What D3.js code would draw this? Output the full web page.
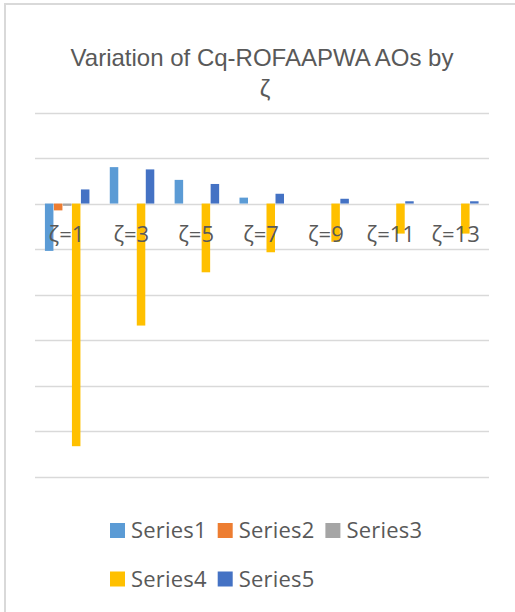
<!DOCTYPE html>
<html>
<head>
<meta charset="utf-8">
<script src="https://cdn.jsdelivr.net/npm/d3@7"></script>
<style>
  body { margin: 0; background: #fff; }
  svg { display: block; }
</style>
</head>
<body>
<div id="chart"></div>
<script>
// chart values (one gridline = 1 unit)
const categories = ["ζ=1", "ζ=3", "ζ=5", "ζ=7", "ζ=9", "ζ=11", "ζ=13"];
const seriesNames = ["Series1", "Series2", "Series3", "Series4", "Series5"];
const series1 = [-1.04, 0.80, 0.52, 0.13, 0, 0, 0];
const series2 = [-0.15, 0, 0, 0, 0, 0, 0];
const series3 = [-0.05, 0, 0, 0, 0, 0, 0];
const series4 = [-5.33, -2.68, -1.51, -1.07, -0.84, -0.66, -0.66];
const series5 = [0.31, 0.75, 0.43, 0.215, 0.105, 0.05, 0.05];
const yTicks = [-6, -5, -4, -3, -2, -1, 0, 1, 2];
const colors = ["#5B9BD5", "#ED7D31", "#A5A5A5", "#FFC000", "#4472C4"];

const allSeries = [series1, series2, series3, series4, series5];

const width = 515, height = 612;
const plot = { left: 35, right: 489, top: 112.5, bottom: 476.7 };
const labelFont = "'Open Sans', sans-serif";

const svg = d3.select("#chart")
    .append("svg")
    .attr("width", width)
    .attr("height", height);

// chart area border
svg.append("path")
    .attr("d", `M5,${height} V4 H${width}`)
    .attr("fill", "none")
    .attr("stroke", "#d9d9d9")
    .attr("stroke-width", 2);

// title
const title = svg.append("text")
    .attr("text-anchor", "middle")
    .attr("fill", "#595959")
    .style("font-family", "'Liberation Sans', Arial, sans-serif")
    .style("font-size", "24px");
title.append("tspan").attr("x", 262).attr("y", 66).text("Variation of Cq-ROFAAPWA AOs by");
title.append("tspan").attr("x", 265).attr("y", 97).text("ζ");

const y = d3.scaleLinear()
    .domain([d3.min(yTicks), d3.max(yTicks)])
    .range([plot.bottom, plot.top]);

const x = d3.scaleBand()
    .domain(categories)
    .range([plot.left, plot.right])
    .paddingInner(0.306)
    .paddingOuter(0.153);

const xs = d3.scaleBand()
    .domain(seriesNames)
    .range([0, x.bandwidth()]);

// gridlines
svg.append("g")
    .selectAll("line")
    .data(yTicks)
    .join("line")
    .attr("x1", plot.left)
    .attr("x2", plot.right)
    .attr("y1", d => Math.round(y(d)) + 0.5)
    .attr("y2", d => Math.round(y(d)) + 0.5)
    .attr("stroke", "#d9d9d9")
    .attr("stroke-width", 1.5);

// bars
const groups = svg.append("g")
    .selectAll("g")
    .data(categories)
    .join("g")
    .attr("transform", d => `translate(${x(d)},0)`);

groups.selectAll("rect")
    .data((c, i) => seriesNames.map((s, j) => ({ s, j, v: allSeries[j][i] })))
    .join("rect")
    .attr("x", d => xs(d.s))
    .attr("width", xs.bandwidth() - 0.5)
    .attr("y", d => y(Math.max(0, d.v)))
    .attr("height", d => Math.abs(y(d.v) - y(0)))
    .attr("fill", d => colors[d.j]);

// category labels (drawn at the zero line, over the bars)
svg.append("g")
    .selectAll("text")
    .data(categories)
    .join("text")
    .attr("x", d => x(d) + x.bandwidth() / 2 - 1)
    .attr("y", y(0) + 38)
    .attr("text-anchor", "middle")
    .attr("fill", "#595959")
    .style("font-family", labelFont)
    .style("font-size", "22px")
    .text(d => d);

// legend
const legendCols = 3, colW = 107.7, legendLeft = 110, rowH = 48.5;
const legend = svg.append("g")
    .selectAll("g")
    .data(seriesNames)
    .join("g")
    .attr("transform", (d, i) => `translate(${legendLeft + (i % legendCols) * colW},${523 + Math.floor(i / legendCols) * rowH})`);

legend.append("rect")
    .attr("width", 15)
    .attr("height", 15)
    .attr("fill", (d, i) => colors[i]);

legend.append("text")
    .attr("x", 21)
    .attr("y", 15)
    .attr("fill", "#595959")
    .style("font-family", labelFont)
    .style("font-size", "22px")
    .style("letter-spacing", "0.2px")
    .text(d => d);
</script>
</body>
</html>
